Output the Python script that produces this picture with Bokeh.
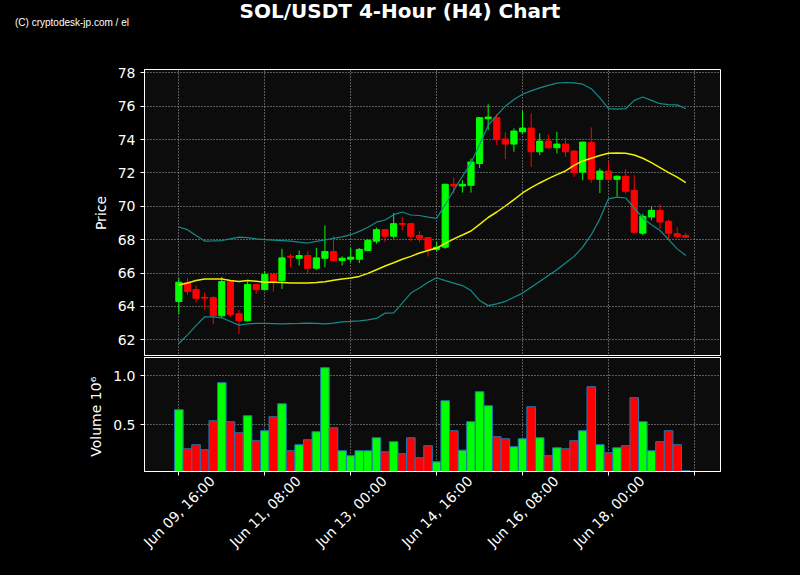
import math
from bokeh.plotting import figure
from bokeh.layouts import column
from bokeh.models import (ColumnDataSource, Range1d, FixedTicker, LinearAxis, Div,
                          PrintfTickFormatter, CustomJSTickFormatter, GlobalInlineStyleSheet)
from bokeh.embed import file_html
from bokeh.resources import INLINE

title_text = "SOL/USDT 4-Hour (H4) Chart"
credit_text = "(C) cryptodesk-jp.com / el"

opens = [64.30, 65.41, 65.01, 64.55, 64.53, 63.44, 65.49, 63.56, 63.14, 65.31,
         65.01, 65.91, 65.55, 67.00, 66.89, 67.05, 66.29, 66.89, 67.29, 66.75,
         66.83, 66.83, 67.35, 67.91, 68.60, 68.21, 68.97, 68.96, 68.25, 68.12,
         67.42, 67.55, 71.32, 71.22, 71.26, 72.57, 75.25, 75.31, 74.03, 73.73,
         74.47, 74.69, 73.27, 73.91, 73.51, 73.73, 73.31, 72.05, 73.83, 71.62,
         72.11, 71.62, 71.80, 70.96, 68.39, 69.36, 69.76, 69.10, 68.36, 68.25]
highs = [65.69, 65.69, 65.25, 64.83, 64.60, 65.77, 65.55, 63.78, 65.49, 65.35,
         66.11, 65.95, 67.45, 67.15, 67.35, 67.29, 67.51, 68.86, 68.21, 67.00,
         67.51, 67.50, 68.05, 68.72, 68.65, 69.60, 69.36, 69.00, 68.52, 68.15,
         67.85, 71.36, 71.73, 71.56, 72.87, 75.35, 76.12, 75.53, 74.43, 74.67,
         75.71, 75.57, 74.37, 74.31, 74.47, 74.11, 73.37, 73.87, 74.73, 72.27,
         72.67, 71.85, 72.21, 71.86, 69.56, 70.00, 70.12, 69.22, 68.75, 68.42]
lows = [63.54, 64.69, 64.24, 63.82, 62.94, 63.31, 63.38, 62.35, 63.10, 64.75,
        64.98, 64.89, 65.05, 66.35, 66.45, 65.99, 66.20, 66.35, 66.69, 66.45,
        66.65, 66.60, 67.30, 67.76, 67.85, 68.06, 68.56, 67.90, 67.85, 66.99,
        67.30, 67.45, 70.76, 70.82, 70.82, 72.30, 74.57, 73.67, 72.83, 73.27,
        74.37, 72.36, 73.07, 73.45, 73.17, 72.97, 71.76, 71.56, 71.42, 70.80,
        71.55, 70.60, 70.76, 68.40, 68.26, 69.16, 68.66, 68.06, 68.06, 68.10]
closes = [65.45, 64.89, 64.49, 64.50, 63.44, 65.49, 63.52, 63.14, 65.31, 65.01,
          65.91, 65.49, 66.91, 66.95, 67.05, 66.29, 66.91, 67.29, 66.75, 66.89,
          66.95, 67.42, 67.95, 68.60, 68.21, 68.96, 68.92, 68.21, 68.09, 67.42,
          67.55, 71.32, 71.22, 71.32, 72.66, 75.31, 75.35, 74.01, 73.73, 74.51,
          74.69, 73.27, 73.91, 73.51, 73.73, 73.27, 72.03, 73.85, 71.62, 72.11,
          71.62, 71.80, 70.90, 68.45, 69.40, 69.76, 69.06, 68.39, 68.20, 68.15]
volumes = [0.653, 0.255, 0.296, 0.245, 0.541, 0.929, 0.531, 0.418, 0.592, 0.337,
           0.439, 0.582, 0.714, 0.235, 0.296, 0.347, 0.429, 1.082, 0.469, 0.235,
           0.184, 0.235, 0.235, 0.367, 0.224, 0.327, 0.204, 0.367, 0.163, 0.286,
           0.122, 0.745, 0.439, 0.241, 0.531, 0.837, 0.694, 0.378, 0.357, 0.276,
           0.357, 0.684, 0.367, 0.184, 0.265, 0.255, 0.337, 0.439, 0.888, 0.296,
           0.214, 0.265, 0.286, 0.776, 0.531, 0.235, 0.327, 0.439, 0.296, 0.031]
sma = [65.29, 65.41, 65.55, 65.65, 65.65, 65.65, 65.55, 65.49, 65.55, 65.51,
       65.45, 65.45, 65.43, 65.41, 65.40, 65.40, 65.43, 65.48, 65.57, 65.64,
       65.70, 65.80, 65.98, 66.20, 66.42, 66.62, 66.83, 67.00, 67.20, 67.35,
       67.50, 67.78, 68.05, 68.28, 68.52, 68.92, 69.33, 69.66, 70.02, 70.40,
       70.80, 71.12, 71.40, 71.66, 71.90, 72.12, 72.45, 72.72, 72.88, 73.05,
       73.18, 73.20, 73.18, 73.08, 72.88, 72.62, 72.32, 72.02, 71.75, 71.42]
bb_upper = [68.76, 68.60, 68.25, 67.92, 67.93, 67.95, 68.05, 68.15, 68.12, 68.05,
            68.00, 67.98, 67.95, 67.92, 67.85, 67.80, 67.90, 67.98, 68.08, 68.17,
            68.30, 68.50, 68.75, 69.05, 69.18, 69.50, 69.66, 69.48, 69.45, 69.35,
            69.28, 70.10, 70.96, 71.80, 72.60, 73.70, 74.85, 75.45, 76.00, 76.40,
            76.72, 76.92, 77.10, 77.25, 77.38, 77.42, 77.40, 77.32, 77.05, 76.50,
            75.85, 75.83, 75.85, 76.35, 76.55, 76.35, 76.15, 76.10, 76.08, 75.85]
bb_lower = [61.78, 62.30, 62.85, 63.38, 63.38, 63.32, 63.10, 62.88, 62.95, 62.98,
            62.98, 62.97, 62.95, 62.97, 62.98, 63.00, 62.98, 62.95, 63.00, 63.08,
            63.10, 63.14, 63.20, 63.28, 63.60, 63.62, 64.20, 64.80, 65.10, 65.45,
            65.72, 65.55, 65.40, 65.25, 64.95, 64.35, 64.05, 64.15, 64.30, 64.55,
            64.80, 65.15, 65.50, 65.85, 66.20, 66.60, 67.00, 67.55, 68.30, 69.25,
            70.45, 70.55, 70.50, 69.90, 69.30, 68.90, 68.55, 68.00, 67.45, 67.05]

tick_positions = [0, 10, 20, 30, 40, 50, 60]
tick_labels = ["Jun 09, 16:00", "Jun 11, 08:00", "Jun 13, 00:00",
               "Jun 14, 16:00", "Jun 16, 08:00", "Jun 18, 00:00"]
price_ticks = [62, 64, 66, 68, 70, 72, 74, 76, 78]
volume_ticks = [0.5, 1.0]

UP = "#00ff00"
DOWN = "#ff0000"
FONT = "DejaVu Sans"
BG = "#0c0c0c"
GRID = "#a8a8a8"
W = 784
LEFT = 144
RIGHT = W - 720

n = len(opens)
xs = list(range(n))
colors = [UP if c >= o else DOWN for o, c in zip(opens, closes)]
src = ColumnDataSource(dict(
    x=xs, open=opens, high=highs, low=lows, close=closes,
    top=[max(o, c) for o, c in zip(opens, closes)],
    bottom=[min(o, c) for o, c in zip(opens, closes)],
    volume=volumes, color=colors, sma=sma, up=bb_upper, lo=bb_lower))

xr = Range1d(-4.0, 63.04)


def style_y(ax):
    ax.axis_line_color = "white"
    ax.major_tick_line_color = "white"
    ax.minor_tick_line_color = None
    ax.major_tick_out = 4
    ax.major_tick_in = 0
    ax.major_label_text_color = "white"
    ax.major_label_text_font = FONT
    ax.major_label_text_font_size = "14px"
    ax.axis_label_text_color = "white"
    ax.axis_label_text_font = FONT
    ax.axis_label_text_font_size = "14px"
    ax.axis_label_text_font_style = "normal"
    ax.axis_label_standoff = 6


def style_grid(g):
    g.grid_line_color = GRID
    g.grid_line_dash = "1 2"
    g.grid_line_width = 1


# ---- header (title + credit) ----
HEAD_H = 56
header_html = (
    '<div style="position:relative;width:784px;height:%dpx;background:#000;">'
    '<span style="position:absolute;left:400px;top:1px;transform:translateX(-50%%);'
    'white-space:nowrap;font-family:\'DejaVu Sans\';font-weight:bold;font-size:20px;'
    'line-height:20px;color:#fff;">%s</span>'
    '<span style="position:absolute;left:15px;top:18px;white-space:nowrap;'
    'font-family:\'Liberation Sans\';font-size:10px;line-height:10px;color:#fff;">%s</span>'
    '</div>' % (HEAD_H, title_text, credit_text))
header = Div(text=header_html, width=W, height=HEAD_H, margin=0,
             styles={"margin": "0", "padding": "0", "background-color": "#000000"})

# ---- price panel (frame y 69..356) ----
P_H = 356 - HEAD_H
p = figure(width=W, height=P_H, x_range=xr, y_range=Range1d(61.0, 78.2),
           output_backend="svg", toolbar_location=None,
           min_border_left=LEFT, min_border_right=RIGHT, min_border_top=69 - HEAD_H,
           min_border_bottom=0,
           background_fill_color=BG, border_fill_color="#000000",
           outline_line_color="white", outline_line_width=1)
p.xaxis.visible = False
p.xgrid.ticker = FixedTicker(ticks=tick_positions)
p.yaxis.ticker = FixedTicker(ticks=price_ticks)
p.yaxis.axis_label = "Price"
style_y(p.yaxis[0])
style_grid(p.xgrid[0])
style_grid(p.ygrid[0])

p.segment(x0="x", y0="low", x1="x", y1="high", line_color="color", line_width=1, source=src)
p.vbar(x="x", width=0.72, top="top", bottom="bottom", fill_color="color",
       line_color="color", line_width=1, source=src)
p.line(x="x", y="up", line_color="#138b8b", line_width=1.2, source=src)
p.line(x="x", y="lo", line_color="#138b8b", line_width=1.2, source=src)
p.line(x="x", y="sma", line_color="#f0f000", line_width=1.5, source=src)

# ---- volume panel (frame y 357..471) ----
VOL_H = 559 - 356
v = figure(width=W, height=VOL_H, x_range=xr, y_range=Range1d(0.023, 1.186),
           output_backend="svg", toolbar_location=None,
           min_border_left=LEFT, min_border_right=RIGHT, min_border_top=1,
           min_border_bottom=VOL_H - 1 - 114,
           background_fill_color=BG, border_fill_color="#000000",
           outline_line_color="white", outline_line_width=1)
v.vbar(x="x", width=1.0, top="volume", bottom=0, fill_color="color",
       line_color="#1f77b4", line_width=1, source=src)
v.yaxis.ticker = FixedTicker(ticks=volume_ticks)
v.yaxis.formatter = PrintfTickFormatter(format="%.1f")
v.yaxis.axis_label = "Volume  10\u2076"
style_y(v.yaxis[0])
v.xgrid.ticker = FixedTicker(ticks=tick_positions)
style_grid(v.xgrid[0])
style_grid(v.ygrid[0])

ax_a = v.xaxis[0]
ax_a.ticker = FixedTicker(ticks=tick_positions)
ax_a.axis_line_color = "white"
ax_a.major_tick_line_color = "white"
ax_a.minor_tick_line_color = None
ax_a.major_tick_out = 4
ax_a.major_tick_in = 0
ax_a.major_label_text_font_size = "0px"
ax_a.major_label_standoff = 0
ax_a.formatter = CustomJSTickFormatter(code="return '';")

shift = 3.9
ax_b = LinearAxis(
    ticker=FixedTicker(ticks=[t + shift for t in tick_positions[:len(tick_labels)]]),
    formatter=CustomJSTickFormatter(args=dict(labels=tick_labels, shift=shift),
                                    code="const i = Math.round((tick - shift) / 10); return labels[i] || '';"),
    axis_line_color=None, major_tick_line_color=None, minor_tick_line_color=None,
    major_tick_out=0, major_tick_in=0, major_label_standoff=3,
    major_label_orientation=math.pi / 4,
    major_label_text_color="white", major_label_text_font=FONT,
    major_label_text_font_size="14px")
v.add_layout(ax_b, "below")

layout = column(header, p, v, stylesheets=[GlobalInlineStyleSheet(css="body { background: #000000; }")])

open("out.html", "w").write(file_html(layout, INLINE))
